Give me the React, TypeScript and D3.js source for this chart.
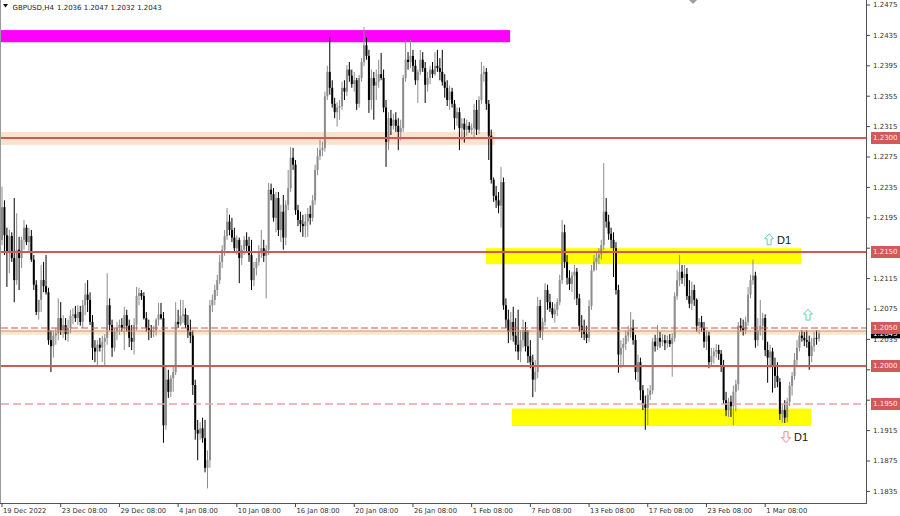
import React from "react";
import * as d3 from "d3";

type Bar = [number, number, number, number]; // open, high, low, close

// GBPUSD H4 candles, one array per axis-label period (24 bars each)
const dec19: Bar[] = [
  [1.2166,1.2236,1.2159,1.2209],[1.2209,1.2218,1.2146,1.2172],[1.2172,1.2182,1.2104,1.2150],[1.2150,1.2179,1.2122,1.2171],
  [1.2171,1.2176,1.2137,1.2142],[1.2142,1.2221,1.2084,1.2113],[1.2113,1.2201,1.2107,1.2153],[1.2153,1.2170,1.2100,1.2142],
  [1.2142,1.2170,1.2129,1.2166],[1.2166,1.2192,1.2153,1.2182],[1.2182,1.2186,1.2159,1.2163],[1.2163,1.2182,1.2150,1.2171],
  [1.2171,1.2179,1.2137,1.2140],[1.2140,1.2146,1.2100,1.2107],[1.2107,1.2113,1.2067,1.2071],[1.2071,1.2087,1.2061,1.2087],
  [1.2087,1.2133,1.2071,1.2113],[1.2113,1.2137,1.2097,1.2105],[1.2105,1.2146,1.2094,1.2097],[1.2097,1.2103,1.2028,1.2034],
  [1.2034,1.2047,1.1992,1.2026],[1.2026,1.2047,1.2011,1.2040],[1.2040,1.2050,1.2028,1.2043],[1.2043,1.2089,1.2034,1.2063],
];
const dec23: Bar[] = [
  [1.2063,1.2084,1.2041,1.2047],[1.2047,1.2067,1.2037,1.2054],[1.2054,1.2063,1.2034,1.2042],[1.2042,1.2061,1.2032,1.2050],
  [1.2050,1.2074,1.2043,1.2066],[1.2066,1.2076,1.2055,1.2068],[1.2068,1.2079,1.2058,1.2063],[1.2063,1.2080,1.2054,1.2071],
  [1.2071,1.2079,1.2053,1.2058],[1.2058,1.2087,1.2050,1.2080],[1.2080,1.2109,1.2067,1.2094],[1.2094,1.2113,1.2071,1.2087],
  [1.2087,1.2097,1.2054,1.2058],[1.2058,1.2067,1.2008,1.2024],[1.2024,1.2034,1.2005,1.2019],[1.2019,1.2034,1.2001,1.2028],
  [1.2028,1.2037,1.2019,1.2024],[1.2024,1.2040,1.2005,1.2032],[1.2032,1.2042,1.2001,1.2037],[1.2037,1.2122,1.2028,1.2080],
  [1.2080,1.2089,1.2047,1.2054],[1.2054,1.2061,1.2012,1.2024],[1.2024,1.2050,1.2019,1.2045],[1.2045,1.2058,1.2034,1.2050],
];
const dec29: Bar[] = [
  [1.2050,1.2061,1.2041,1.2054],[1.2054,1.2063,1.2045,1.2050],[1.2050,1.2078,1.2021,1.2067],[1.2067,1.2074,1.2045,1.2053],
  [1.2053,1.2061,1.2025,1.2037],[1.2037,1.2054,1.2021,1.2032],[1.2032,1.2063,1.2015,1.2054],[1.2054,1.2104,1.2047,1.2092],
  [1.2092,1.2103,1.2080,1.2096],[1.2096,1.2100,1.2087,1.2092],[1.2092,1.2097,1.2061,1.2063],[1.2063,1.2071,1.2045,1.2050],
  [1.2050,1.2061,1.2034,1.2047],[1.2047,1.2054,1.2037,1.2045],[1.2045,1.2053,1.2038,1.2047],[1.2047,1.2063,1.2040,1.2061],
  [1.2061,1.2083,1.2053,1.2068],[1.2068,1.2083,1.2061,1.2063],[1.2063,1.2071,1.1899,1.1922],[1.1922,1.1999,1.1916,1.1982],
  [1.1982,1.1995,1.1958,1.1966],[1.1966,1.1988,1.1959,1.1984],[1.1984,1.2001,1.1966,1.1992],[1.1992,1.2084,1.1988,1.2058],
];
const jan04: Bar[] = [
  [1.2058,1.2074,1.2050,1.2055],[1.2055,1.2087,1.2053,1.2066],[1.2066,1.2087,1.2057,1.2068],[1.2068,1.2076,1.2050,1.2054],
  [1.2054,1.2067,1.2037,1.2045],[1.2045,1.2061,1.2030,1.2040],[1.2040,1.2047,1.1962,1.1975],[1.1975,1.1982,1.1903,1.1916],
  [1.1916,1.1929,1.1876,1.1911],[1.1911,1.1926,1.1903,1.1918],[1.1918,1.1932,1.1899,1.1905],[1.1905,1.1929,1.1860,1.1866],
  [1.1866,1.1889,1.1839,1.1876],[1.1876,1.2087,1.1866,1.2080],[1.2080,1.2094,1.2071,1.2087],[1.2087,1.2107,1.2080,1.2100],
  [1.2100,1.2120,1.2092,1.2113],[1.2113,1.2146,1.2108,1.2137],[1.2137,1.2159,1.2129,1.2153],[1.2153,1.2179,1.2145,1.2171],
  [1.2171,1.2208,1.2166,1.2190],[1.2190,1.2199,1.2172,1.2179],[1.2179,1.2195,1.2163,1.2169],[1.2169,1.2182,1.2150,1.2155],
];
const jan10: Bar[] = [
  [1.2155,1.2172,1.2146,1.2166],[1.2166,1.2169,1.2109,1.2142],[1.2142,1.2159,1.2133,1.2153],[1.2153,1.2171,1.2146,1.2166],
  [1.2166,1.2176,1.2150,1.2158],[1.2158,1.2170,1.2137,1.2146],[1.2146,1.2166,1.2100,1.2113],[1.2113,1.2137,1.2105,1.2129],
  [1.2129,1.2142,1.2119,1.2137],[1.2137,1.2159,1.2132,1.2150],[1.2150,1.2179,1.2142,1.2155],[1.2155,1.2166,1.2137,1.2145],
  [1.2145,1.2159,1.2089,1.2153],[1.2153,1.2241,1.2146,1.2232],[1.2232,1.2240,1.2218,1.2226],[1.2226,1.2234,1.2190,1.2195],
  [1.2195,1.2229,1.2176,1.2221],[1.2221,1.2229,1.2171,1.2179],[1.2179,1.2212,1.2163,1.2203],[1.2203,1.2225,1.2153,1.2169],
  [1.2169,1.2218,1.2159,1.2212],[1.2212,1.2258,1.2205,1.2234],[1.2234,1.2288,1.2229,1.2274],[1.2274,1.2287,1.2258,1.2265],
];
const jan16: Bar[] = [
  [1.2265,1.2271,1.2199,1.2205],[1.2205,1.2212,1.2184,1.2192],[1.2192,1.2203,1.2176,1.2187],[1.2187,1.2199,1.2170,1.2184],
  [1.2184,1.2200,1.2169,1.2190],[1.2190,1.2208,1.2170,1.2200],[1.2200,1.2211,1.2186,1.2195],[1.2195,1.2225,1.2190,1.2218],
  [1.2218,1.2265,1.2212,1.2258],[1.2258,1.2287,1.2251,1.2276],[1.2276,1.2298,1.2271,1.2284],[1.2284,1.2295,1.2276,1.2287],
  [1.2287,1.2361,1.2282,1.2355],[1.2355,1.2395,1.2350,1.2387],[1.2387,1.2433,1.2357,1.2366],[1.2366,1.2376,1.2340,1.2345],
  [1.2345,1.2353,1.2326,1.2334],[1.2334,1.2347,1.2315,1.2340],[1.2340,1.2350,1.2324,1.2342],[1.2342,1.2374,1.2337,1.2366],
  [1.2366,1.2376,1.2350,1.2361],[1.2361,1.2396,1.2355,1.2390],[1.2390,1.2400,1.2374,1.2382],[1.2382,1.2390,1.2366,1.2371],
];
const jan20: Bar[] = [
  [1.2371,1.2387,1.2361,1.2376],[1.2376,1.2379,1.2337,1.2345],[1.2345,1.2383,1.2340,1.2379],[1.2379,1.2405,1.2374,1.2400],
  [1.2400,1.2446,1.2395,1.2422],[1.2422,1.2432,1.2403,1.2408],[1.2408,1.2416,1.2333,1.2350],[1.2350,1.2390,1.2337,1.2379],
  [1.2379,1.2387,1.2324,1.2369],[1.2369,1.2390,1.2350,1.2374],[1.2374,1.2403,1.2366,1.2384],[1.2384,1.2412,1.2376,1.2379],
  [1.2379,1.2390,1.2334,1.2340],[1.2340,1.2350,1.2262,1.2295],[1.2295,1.2334,1.2284,1.2326],[1.2326,1.2337,1.2304,1.2316],
  [1.2316,1.2332,1.2311,1.2324],[1.2324,1.2334,1.2308,1.2316],[1.2316,1.2326,1.2284,1.2308],[1.2308,1.2324,1.2297,1.2313],
  [1.2313,1.2383,1.2308,1.2379],[1.2379,1.2429,1.2374,1.2403],[1.2403,1.2413,1.2390,1.2400],[1.2400,1.2429,1.2392,1.2408],
];
const jan26: Bar[] = [
  [1.2408,1.2416,1.2387,1.2395],[1.2395,1.2403,1.2370,1.2376],[1.2376,1.2390,1.2346,1.2387],[1.2387,1.2416,1.2383,1.2403],
  [1.2403,1.2413,1.2387,1.2392],[1.2392,1.2400,1.2346,1.2370],[1.2370,1.2387,1.2361,1.2379],[1.2379,1.2395,1.2371,1.2390],
  [1.2390,1.2400,1.2379,1.2384],[1.2384,1.2413,1.2382,1.2395],[1.2395,1.2416,1.2387,1.2392],[1.2392,1.2405,1.2376,1.2387],
  [1.2387,1.2416,1.2369,1.2374],[1.2374,1.2384,1.2353,1.2366],[1.2366,1.2376,1.2342,1.2350],[1.2350,1.2369,1.2337,1.2361],
  [1.2361,1.2366,1.2340,1.2345],[1.2345,1.2350,1.2311,1.2326],[1.2326,1.2340,1.2316,1.2334],[1.2334,1.2340,1.2284,1.2313],
  [1.2313,1.2326,1.2297,1.2319],[1.2319,1.2326,1.2294,1.2311],[1.2311,1.2324,1.2303,1.2316],[1.2316,1.2321,1.2307,1.2311],
];
const feb01: Bar[] = [
  [1.2311,1.2319,1.2305,1.2313],[1.2313,1.2345,1.2300,1.2337],[1.2337,1.2350,1.2304,1.2311],[1.2311,1.2355,1.2305,1.2350],
  [1.2350,1.2400,1.2345,1.2384],[1.2384,1.2395,1.2374,1.2387],[1.2387,1.2392,1.2337,1.2345],[1.2345,1.2350,1.2271,1.2303],
  [1.2303,1.2311,1.2240,1.2245],[1.2245,1.2248,1.2216,1.2224],[1.2224,1.2237,1.2208,1.2218],[1.2218,1.2229,1.2201,1.2211],
  [1.2211,1.2262,1.2182,1.2242],[1.2242,1.2248,1.2074,1.2080],[1.2080,1.2089,1.2050,1.2061],[1.2061,1.2074,1.2030,1.2045],
  [1.2045,1.2071,1.2034,1.2058],[1.2058,1.2078,1.2032,1.2040],[1.2040,1.2063,1.2019,1.2028],[1.2028,1.2074,1.2008,1.2019],
  [1.2019,1.2047,1.2005,1.2034],[1.2034,1.2061,1.2024,1.2047],[1.2047,1.2058,1.2019,1.2026],[1.2026,1.2047,1.2004,1.2013],
];
const feb07: Bar[] = [
  [1.2013,1.2034,1.1997,1.2005],[1.2005,1.2015,1.1959,1.1982],[1.1982,1.2008,1.1966,1.1992],[1.1992,1.2091,1.1984,1.2079],
  [1.2079,1.2087,1.2037,1.2045],[1.2045,1.2063,1.2034,1.2058],[1.2058,1.2109,1.2053,1.2100],[1.2100,1.2107,1.2074,1.2084],
  [1.2084,1.2095,1.2071,1.2076],[1.2076,1.2084,1.2063,1.2068],[1.2068,1.2082,1.2057,1.2074],[1.2074,1.2089,1.2066,1.2084],
  [1.2084,1.2120,1.2080,1.2113],[1.2113,1.2192,1.2108,1.2176],[1.2176,1.2186,1.2129,1.2137],[1.2137,1.2146,1.2107,1.2116],
  [1.2116,1.2126,1.2100,1.2108],[1.2108,1.2124,1.2097,1.2119],[1.2119,1.2133,1.2087,1.2124],[1.2124,1.2129,1.2080,1.2089],
  [1.2089,1.2095,1.2045,1.2053],[1.2053,1.2067,1.2037,1.2047],[1.2047,1.2061,1.2034,1.2042],[1.2042,1.2053,1.2030,1.2037],
];
const feb13: Bar[] = [
  [1.2037,1.2087,1.2032,1.2079],[1.2079,1.2133,1.2074,1.2126],[1.2126,1.2146,1.2124,1.2137],[1.2137,1.2150,1.2126,1.2142],
  [1.2142,1.2155,1.2134,1.2147],[1.2147,1.2166,1.2140,1.2159],[1.2159,1.2267,1.2153,1.2203],[1.2203,1.2221,1.2182,1.2190],
  [1.2190,1.2199,1.2166,1.2174],[1.2174,1.2182,1.2155,1.2166],[1.2166,1.2176,1.2117,1.2155],[1.2155,1.2163,1.2094,1.2100],
  [1.2100,1.2107,1.1991,1.2015],[1.2015,1.2034,1.1997,1.2024],[1.2024,1.2037,1.2000,1.2029],[1.2029,1.2047,1.2021,1.2040],
  [1.2040,1.2053,1.2032,1.2045],[1.2045,1.2071,1.2037,1.2050],[1.2050,1.2061,1.2028,1.2034],[1.2034,1.2041,1.1982,1.1992],
  [1.1992,1.2015,1.1979,1.2005],[1.2005,1.2011,1.1955,1.1968],[1.1968,1.1975,1.1942,1.1950],[1.1950,1.1961,1.1916,1.1945],
];
const feb17: Bar[] = [
  [1.1945,1.1971,1.1922,1.1962],[1.1962,1.1975,1.1955,1.1968],[1.1968,1.2037,1.1963,1.2032],[1.2032,1.2041,1.2019,1.2026],
  [1.2026,1.2054,1.2021,1.2037],[1.2037,1.2045,1.2024,1.2032],[1.2032,1.2042,1.2026,1.2034],[1.2034,1.2041,1.2021,1.2030],
  [1.2030,1.2040,1.2024,1.2034],[1.2034,1.2042,1.2025,1.2029],[1.2029,1.2043,1.1986,1.2037],[1.2037,1.2097,1.2032,1.2092],
  [1.2092,1.2126,1.2087,1.2113],[1.2113,1.2146,1.2105,1.2124],[1.2124,1.2133,1.2108,1.2116],[1.2116,1.2133,1.2105,1.2121],
  [1.2121,1.2129,1.2087,1.2092],[1.2092,1.2113,1.2076,1.2082],[1.2082,1.2111,1.2074,1.2100],[1.2100,1.2107,1.2079,1.2087],
  [1.2087,1.2089,1.2045,1.2053],[1.2053,1.2063,1.2042,1.2058],[1.2058,1.2066,1.2045,1.2050],[1.2050,1.2058,1.2024,1.2032],
];
const feb23: Bar[] = [
  [1.2032,1.2047,1.2021,1.2040],[1.2040,1.2045,1.1997,1.2005],[1.2005,1.2024,1.2000,1.2013],[1.2013,1.2024,1.2003,1.2019],
  [1.2019,1.2029,1.2011,1.2021],[1.2021,1.2028,1.2008,1.2016],[1.2016,1.2021,1.1992,1.2000],[1.2000,1.2008,1.1950,1.1955],
  [1.1955,1.1966,1.1934,1.1942],[1.1942,1.1958,1.1933,1.1953],[1.1953,1.1961,1.1933,1.1947],[1.1947,1.1974,1.1922,1.1966],
  [1.1966,1.1982,1.1940,1.1976],[1.1976,1.2058,1.1968,1.2053],[1.2053,1.2063,1.2045,1.2050],[1.2050,1.2061,1.2040,1.2047],
  [1.2047,1.2065,1.2042,1.2058],[1.2058,1.2104,1.2053,1.2094],[1.2094,1.2120,1.2089,1.2113],[1.2113,1.2140,1.2107,1.2119],
  [1.2119,1.2124,1.2024,1.2034],[1.2034,1.2063,1.2026,1.2047],[1.2047,1.2087,1.2040,1.2053],[1.2053,1.2070,1.2034,1.2063],
];
const mar01: Bar[] = [
  [1.2063,1.2068,1.2013,1.2021],[1.2021,1.2032,1.1978,1.2011],[1.2011,1.2028,1.1997,1.2019],[1.2019,1.2024,1.1965,1.2001],
  [1.2001,1.2011,1.1971,1.1987],[1.1987,1.2005,1.1972,1.1979],[1.1979,1.1984,1.1929,1.1937],[1.1937,1.1950,1.1925,1.1942],
  [1.1942,1.1955,1.1925,1.1932],[1.1932,1.1958,1.1926,1.1953],[1.1953,1.1979,1.1947,1.1974],[1.1974,1.1992,1.1961,1.1987],
  [1.1987,1.2017,1.1982,1.2008],[1.2008,1.2034,1.2000,1.2024],[1.2024,1.2045,1.2019,1.2040],[1.2040,1.2047,1.2032,1.2037],
  [1.2037,1.2045,1.2026,1.2034],[1.2034,1.2047,1.2024,1.2032],[1.2032,1.2040,1.1995,1.2013],[1.2013,1.2037,1.2005,1.2026],
  [1.2026,1.2045,1.2019,1.2037],[1.2037,1.2047,1.2028,1.2036],[1.2036,1.2047,1.2032,1.2043],
];

const timeLabels = [
  "19 Dec 2022", "23 Dec 08:00", "29 Dec 08:00", "4 Jan 08:00", "10 Jan 08:00", "16 Jan 08:00", "20 Jan 08:00",
  "26 Jan 08:00", "1 Feb 08:00", "7 Feb 08:00", "13 Feb 08:00", "17 Feb 08:00", "23 Feb 08:00", "1 Mar 08:00",
];
const barsPerLabel = 24;

const priceTicks = [
  1.2475, 1.2435, 1.2395, 1.2355, 1.2315, 1.2275, 1.2235, 1.2195, 1.2155,
  1.2115, 1.2075, 1.2035, 1.1995, 1.1955, 1.1915, 1.1875, 1.1835,
];

const solidLevels = [1.23, 1.215, 1.2];
const levelTags = [1.23, 1.215, 1.205, 1.2, 1.195];
const lastPrice = 1.2043;

// zones: [fromBar, toBar, priceTop, priceBottom, colour]
const zones: [number, number, number, number, string][] = [
  [-1, 207.7, 1.2442, 1.2426, "#ff00ff"],
  [-1, 201.6, 1.2308, 1.2291, "#fae3cc"],
  [197.9, 326.7, 1.2155, 1.2134, "#ffff00"],
  [208.5, 330.7, 1.1944, 1.1921, "#ffff00"],
];

const arrows = [
  { bar: 313.6, price: 1.2166, up: true, label: "D1" },
  { bar: 329.5, price: 1.2067, up: true, label: "" },
  { bar: 320.5, price: 1.1907, up: false, label: "D1" },
];

const candles: Bar[] = [
  ...dec19, ...dec23, ...dec29, ...jan04, ...jan10, ...jan16, ...jan20,
  ...jan26, ...feb01, ...feb07, ...feb13, ...feb17, ...feb23, ...mar01,
];

const W = 900;
const H = 516;
const plotR = 866;
const plotB = 503;
const font = "'DejaVu Sans', Verdana, sans-serif";

export default function App() {
  const x = d3.scaleLinear().domain([0, candles.length - 1]).range([2, 819]);
  const y = d3.scaleLinear().domain([1.1835, 1.2475]).range([491.4, 5]);
  const fmt = d3.format(".4f");

  return (
    <svg width={W} height={H} style={{ position: "absolute", left: 0, top: 0, background: "#fff" }}>
      <rect width={W} height={H} fill="#fff" />

      {/* zones */}
      {zones.map(([b0, b1, p0, p1, col], i) => (
        <rect key={"z" + i} x={Math.max(1, x(b0))} y={y(p0)} width={x(b1) - Math.max(1, x(b0))}
          height={y(p1) - y(p0)} fill={col} />
      ))}
      <rect x={1} y={y(1.2047)} width={plotR - 1} height={y(1.2041) - y(1.2047)} fill="#fbe6d3" />

      {/* candles */}
      {candles.map(([o, h, l, c], i) => {
        const up = c >= o;
        const col = up ? "#8c8c8c" : "#000";
        const cx = x(i);
        const top = y(Math.max(o, c));
        const bot = y(Math.min(o, c));
        return (
          <g key={"c" + i}>
            <line x1={cx} x2={cx} y1={y(h)} y2={y(l)} stroke={col} strokeWidth={1} />
            <rect x={cx - 1} y={top} width={2} height={Math.max(1, bot - top)} fill={col} />
          </g>
        );
      })}

      {/* horizontal levels */}
      {solidLevels.map((p) => (
        <line key={"l" + p} x1={1} x2={plotR} y1={y(p)} y2={y(p)} stroke="#d25757" strokeWidth={2} />
      ))}
      <line x1={1} x2={plotR} y1={y(1.205)} y2={y(1.205)} stroke="#c9574f" strokeWidth={1} strokeDasharray="7 3" />
      <line x1={1} x2={plotR} y1={y(1.2046)} y2={y(1.2046)} stroke="#dd9560" strokeWidth={1} />
      <line x1={1} x2={plotR} y1={y(1.195)} y2={y(1.195)} stroke="#e6a4a4" strokeWidth={1.5} strokeDasharray="8 4" />

      {/* arrows */}
      {arrows.map((a, i) => {
        const ax = x(a.bar);
        const ay = y(a.price);
        const d = a.up
          ? `M0,-6 L4.5,-1 L2,-1 L2,5 L-2,5 L-2,-1 L-4.5,-1 Z`
          : `M0,6 L4.5,1 L2,1 L2,-5 L-2,-5 L-2,1 L-4.5,1 Z`;
        return (
          <g key={"a" + i} transform={`translate(${ax},${ay})`}>
            <path d={d} fill="#fff" stroke={a.up ? "#5fd6a4" : "#ec8c8c"} strokeWidth={1} />
            {a.label && (
              <text x={8} y={4} fontFamily="'Liberation Sans', Arial, sans-serif" fontSize={11} fill="#111">
                {a.label}
              </text>
            )}
          </g>
        );
      })}

      {/* frame */}
      <line x1={0.5} x2={0.5} y1={0} y2={plotB} stroke="#9a9a9a" />
      <line x1={plotR + 0.5} x2={plotR + 0.5} y1={0} y2={plotB} stroke="#555" />
      <line x1={0} x2={plotR + 1} y1={plotB + 0.5} y2={plotB + 0.5} stroke="#555" />
      <path d="M689,0 L697,0 L693,4 Z" fill="#a0a0a0" />

      {/* header */}
      <path d="M3,4 L8,4 L5.5,7.5 Z" fill="#111" />
      <text x={12.5} y={9.5} fontFamily={font} fontSize={7} fill="#222">GBPUSD,H4</text>
      <text x={57} y={9.5} fontFamily={font} fontSize={7} fill="#222">
        {[1.2036, 1.2047, 1.2032, 1.2043].map(fmt).join(" ")}
      </text>

      {/* time axis */}
      {timeLabels.map((t, k) => {
        const tx = x(k * barsPerLabel);
        return (
          <g key={"t" + k}>
            <line x1={tx} x2={tx} y1={plotB} y2={plotB + 4} stroke="#444" />
            <text x={tx + 1} y={513} fontFamily={font} fontSize={6.8} fill="#333">{t}</text>
          </g>
        );
      })}

      {/* price axis */}
      {priceTicks.map((p) => (
        <g key={"p" + p}>
          <line x1={plotR} x2={plotR + 4} y1={y(p)} y2={y(p)} stroke="#444" />
          <text x={873} y={y(p)} dy="0.35em" fontFamily={font} fontSize={7} fill="#333">{fmt(p)}</text>
        </g>
      ))}
      <rect x={871} y={y(lastPrice) - 5} width={29} height={10} fill="#000" />
      <text x={873} y={y(lastPrice)} dy="0.35em" fontFamily={font} fontSize={7} fill="#fff">{fmt(lastPrice)}</text>
      {levelTags.map((p) => (
        <g key={"tag" + p}>
          <rect x={871} y={y(p) - 6} width={29} height={12} fill="#d05a5a" />
          <text x={873} y={y(p)} dy="0.35em" fontFamily={font} fontSize={7} fill="#ffe8e8">{fmt(p)}</text>
        </g>
      ))}
    </svg>
  );
}
